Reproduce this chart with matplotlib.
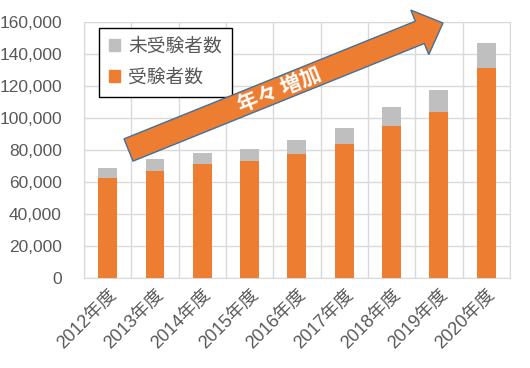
import numpy as np
import matplotlib
matplotlib.use("Agg")
import matplotlib.pyplot as plt
from matplotlib.patches import FancyArrow, Patch

plt.rcParams['font.family'] = ['Liberation Sans', 'Noto Sans CJK JP']

# data
years = ["2012年度", "2013年度", "2014年度", "2015年度", "2016年度",
         "2017年度", "2018年度", "2019年度", "2020年度"]
examinees = [62500, 66900, 71250, 73100, 77500, 83750, 95000, 103750, 131250]
totals = [68750, 74400, 78100, 80600, 86250, 93750, 106900, 117500, 146900]
absent = [t - e for t, e in zip(totals, examinees)]

orange = "#ED7D31"
gray = "#BFBFBF"
grid_c = "#D9D9D9"
text_c = "#595959"

fig = plt.figure(figsize=(5.3, 3.68), dpi=100)
ax = fig.add_axes([0.1585, 0.2446, 0.8035, 0.6954])

x = np.arange(len(years))
ax.bar(x, examinees, width=0.4, color=orange, zorder=3)
ax.bar(x, absent, width=0.4, bottom=examinees, color=gray, zorder=3)

ax.set_xlim(-0.5, len(years) - 0.5)
ax.set_ylim(0, 160000)
ax.set_yticks(np.arange(0, 160001, 20000))
ax.set_yticklabels([f"{v:,}" for v in range(0, 160001, 20000)])
ax.set_xticks(x)
ax.set_xticklabels(years, rotation=45, ha='right', rotation_mode='anchor')

# vertical gridlines between categories
ax.set_xticks(np.arange(-0.5, len(years)), minor=True)
ax.grid(axis='y', color=grid_c, linewidth=1, zorder=0)
ax.grid(axis='x', which='minor', color=grid_c, linewidth=1, zorder=0)
ax.tick_params(axis='both', which='both', length=0, colors=text_c)
ax.tick_params(axis='y', labelsize=12.5, pad=16)
ax.tick_params(axis='x', labelsize=13, pad=6)
for s in ax.spines.values():
    s.set_color(grid_c)

handles = [Patch(color=gray, label="未受験者数"), Patch(color=orange, label="受験者数")]
leg = ax.legend(handles=handles, loc='upper left', bbox_to_anchor=(0.035, 0.977),
                borderaxespad=0, fontsize=13.5, fancybox=False, framealpha=1,
                handlelength=0.6, handleheight=0.6, handletextpad=0.4,
                labelspacing=0.7, borderpad=0.55)
leg.get_frame().set_edgecolor("black")
leg.get_frame().set_linewidth(1)
for t in leg.get_texts():
    t.set_color(text_c)

# big trend arrow, in inches from the lower left corner of the figure
arrow = FancyArrow(1.285, 2.18, 3.145, 1.27, width=0.24, head_width=0.48,
                   head_length=0.25, length_includes_head=True,
                   transform=fig.dpi_scale_trans, facecolor=orange,
                   edgecolor="#41719C", linewidth=1, zorder=5)
fig.patches.append(arrow)
fig.text(2.8 / 5.3, 1 - 90 / 368, "年々 増加", rotation=22, color="white",
         fontsize=15, fontweight='bold', ha='center', va='center', zorder=6,
         family=['Noto Sans CJK JP'])

fig.savefig("out.png", dpi=100)
